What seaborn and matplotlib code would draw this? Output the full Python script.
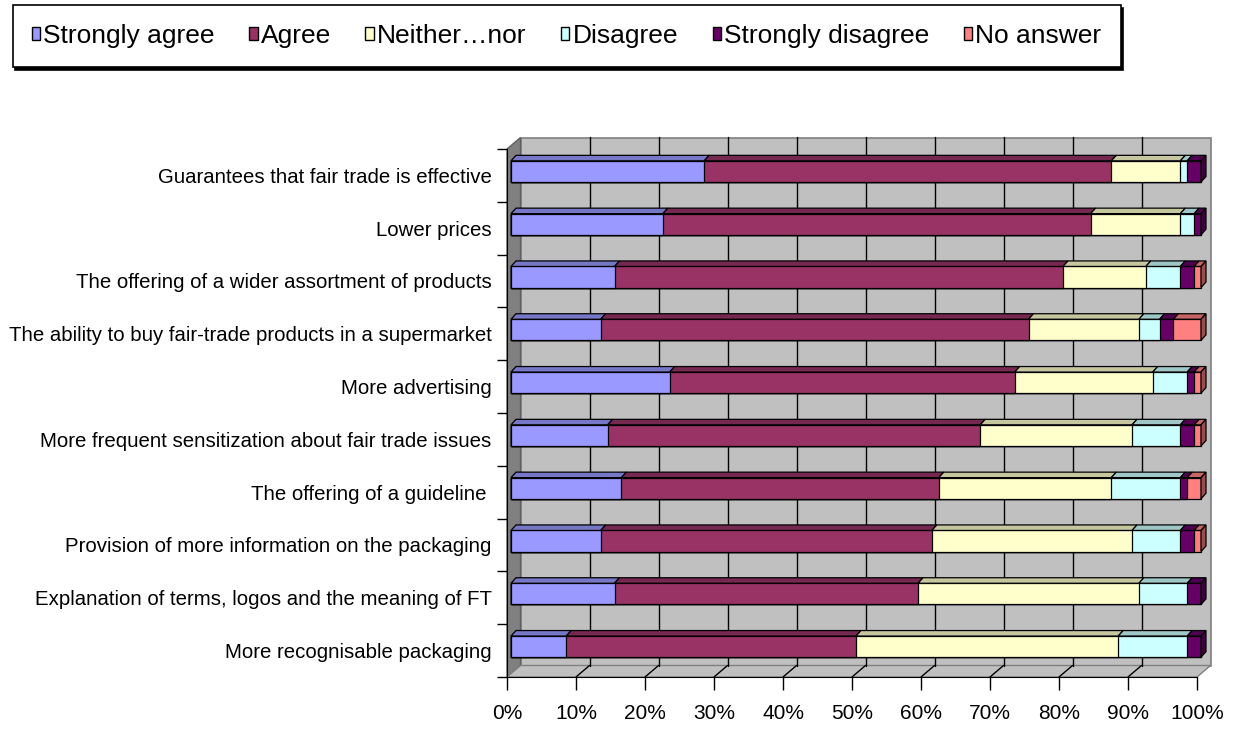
import matplotlib
matplotlib.use("Agg")
import matplotlib.pyplot as plt
import matplotlib.transforms as mtransforms
from matplotlib.colors import to_rgb
from matplotlib.patches import Polygon, Rectangle, Patch
import numpy as np
import pandas as pd
import seaborn as sns

categories = [
    "Guarantees that fair trade is effective",
    "Lower prices",
    "The offering of a wider assortment of products",
    "The ability to buy fair-trade products in a supermarket",
    "More advertising",
    "More frequent sensitization about fair trade issues",
    "The offering of a guideline ",
    "Provision of more information on the packaging",
    "Explanation of terms, logos and the meaning of FT",
    "More recognisable packaging",
]
segments = ["Strongly agree", "Agree", "Neither\u2026nor", "Disagree",
            "Strongly disagree", "No answer"]
strongly_agree = [28, 22, 15, 13, 23, 14, 16, 13, 15, 8]
agree = [59, 62, 65, 62, 50, 54, 46, 48, 44, 42]
neither = [10, 13, 12, 16, 20, 22, 25, 29, 32, 38]
disagree = [1, 2, 5, 3, 5, 7, 10, 7, 7, 10]
strongly_disagree = [2, 1, 2, 2, 1, 2, 1, 2, 2, 2]
no_answer = [0, 0, 1, 4, 1, 1, 2, 1, 0, 0]
colors = ["#9999FF", "#993366", "#FFFFCC", "#CCFFFF", "#660066", "#FF8080"]

sns.set_style("white")
plt.rcParams["font.family"] = ["Liberation Sans Narrow", "Liberation Sans", "DejaVu Sans"]
plt.rcParams["text.color"] = "black"
plt.rcParams["xtick.color"] = "black"
plt.rcParams["ytick.color"] = "black"
plt.rcParams["axes.labelcolor"] = "black"

df = pd.DataFrame(dict(zip(segments, [strongly_agree, agree, neither, disagree,
                                      strongly_disagree, no_answer])),
                  index=categories)
cum = df.cumsum(axis=1)
start = cum - df

fig = plt.figure(figsize=(12.35, 7.29), dpi=100)
ax = fig.add_axes([507 / 1235, 1 - 677 / 729, 690 / 1235, 528 / 729])
ax.set_facecolor("none")

bar_h = 0.4
# stacked bars: draw cumulative totals from the widest layer down
for seg, col in reversed(list(zip(segments, colors))):
    sns.barplot(x=cum[seg].values, y=categories, color=col, saturation=1,
                edgecolor="black", linewidth=0.9, width=bar_h, orient="h",
                errorbar=None, ax=ax, zorder=3)

ax.set_xlim(0, 100)
ax.set_ylim(9.5, -0.5)

# pixel -> data conversions for the fake 3D depth
ux = 100 / 690
uy = 10 / 528
wdx, wdy = 13.5 * ux, 11.5 * uy
bdx, bdy = 5 * ux, 5.5 * uy
bar_shift = ax.transData + mtransforms.ScaledTranslation(0.04, 0.04, fig.dpi_scale_trans)

for p in ax.patches:
    p.set_transform(bar_shift)
    p.set_clip_on(False)

ybot, ytop = 9.5, -0.5
# back wall, left wall and floor
ax.add_patch(Rectangle((wdx, ytop - wdy), 100, ybot - ytop, facecolor="#C0C0C0",
                       edgecolor="#808080", lw=1.2, zorder=0, clip_on=False))
ax.add_patch(Polygon([(0, ybot), (0, ytop), (wdx, ytop - wdy), (wdx, ybot - wdy)],
                     facecolor="#808080", edgecolor="#606060", lw=1, zorder=0.5, clip_on=False))
ax.add_patch(Polygon([(0, ybot), (100, ybot), (100 + wdx, ybot - wdy), (wdx, ybot - wdy)],
                     facecolor="#C0C0C0", edgecolor="#808080", lw=1, zorder=0.5, clip_on=False))
for x in range(10, 100, 10):
    ax.plot([x + wdx, x + wdx], [ybot - wdy, ytop - wdy], color="black", lw=1, zorder=1,
            clip_on=False)
    ax.plot([x, x + wdx], [ybot, ybot - wdy], color="black", lw=1, zorder=1, clip_on=False)


def shade(c, f):
    return tuple(v * f for v in to_rgb(c))


# top and end faces of the bars
for j, cat in enumerate(categories):
    yt, yb = j - bar_h / 2, j + bar_h / 2
    for seg, col in zip(segments, colors):
        x0, x1 = start.loc[cat, seg], cum.loc[cat, seg]
        if x1 <= x0:
            continue
        top = Polygon([(x0, yt), (x1, yt), (x1 + bdx, yt - bdy), (x0 + bdx, yt - bdy)],
                      facecolor=shade(col, 0.78), edgecolor="black", lw=0.9, zorder=3,
                      clip_on=False, transform=bar_shift)
        ax.add_patch(top)
    last = [s for s in segments if df.loc[cat, s] > 0][-1]
    tot = cum.loc[cat, last]
    side = Polygon([(tot, yt), (tot + bdx, yt - bdy), (tot + bdx, yb - bdy), (tot, yb)],
                   facecolor=shade(colors[segments.index(last)], 0.6), edgecolor="black",
                   lw=0.9, zorder=3, clip_on=False, transform=bar_shift)
    ax.add_patch(side)

for s in ["top", "right"]:
    ax.spines[s].set_visible(False)
ax.spines["left"].set_color("black")
ax.spines["bottom"].set_color("black")
ax.spines["left"].set_zorder(2)
ax.spines["bottom"].set_zorder(2)

ax.set_xticks(range(0, 101, 10))
ax.set_xticklabels([f"{v}%" for v in range(0, 101, 10)])
ax.set_yticks(range(len(categories)))
ax.set_yticklabels(categories)
ax.set_yticks(np.arange(-0.5, 10, 1), minor=True)
ax.tick_params(axis="x", length=9.4, width=1, pad=10, labelsize=15,
               direction="out", bottom=True)
ax.tick_params(axis="y", which="major", length=0, pad=11, labelsize=14.7)
ax.tick_params(axis="y", which="minor", length=7, width=1,
               direction="out", left=True)
ax.set_xlabel("")
ax.set_ylabel("")
ax.grid(False)

handles = [Patch(facecolor=c, edgecolor="black", lw=1) for c in colors]
leg = fig.legend(handles, segments, loc="upper left", ncol=6, mode="expand",
                 bbox_to_anchor=(12.6 / 1235, 1 - 72 / 729, 1108 / 1235, 67 / 729),
                 fontsize=19, frameon=True, fancybox=False, borderpad=0.72,
                 handlelength=0.32, handleheight=0.4, handletextpad=0.12,
                 borderaxespad=0, shadow={"color": "black", "alpha": 1})
leg.get_frame().set_edgecolor("black")
leg.get_frame().set_linewidth(1.2)

fig.savefig("out.png", dpi=100, facecolor="white")
